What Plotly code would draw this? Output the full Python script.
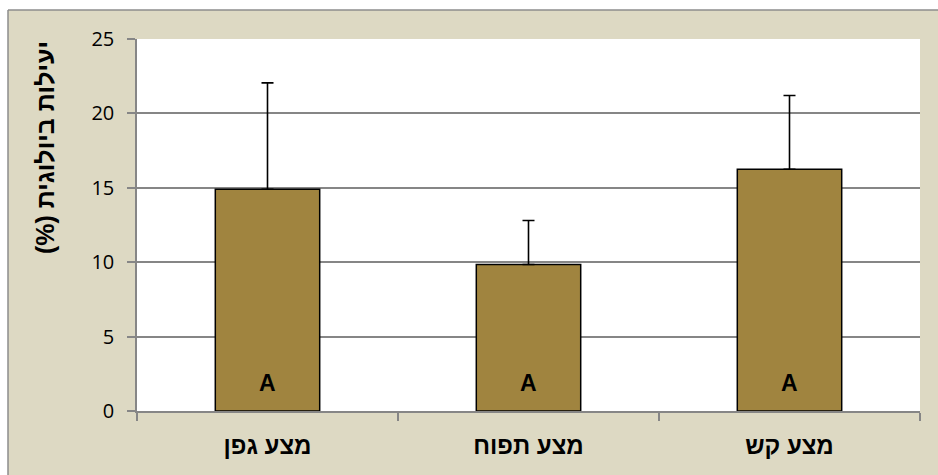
import plotly.graph_objects as go

categories = ["מצע גפן", "מצע תפוח", "מצע קש"]
values = [14.9, 9.85, 16.25]
err_plus = [7.15, 2.95, 4.95]
letters = ["A", "A", "A"]
y_title = "יעילות ביולוגית (%)\u200f"

W, H = 938, 475
L, R, T, B = 137, 18, 39, 64

fig = go.Figure()
fig.add_trace(go.Bar(
    x=categories, y=values, width=0.4,
    marker=dict(color="#A0843F", line=dict(color="#000000", width=1.5)),
    error_y=dict(type="data", array=err_plus, arrayminus=[0]*len(values),
                 symmetric=False, color="#000000", thickness=1.6, width=6),
    showlegend=False, hoverinfo="skip",
))

for c, t in zip(categories, letters):
    fig.add_annotation(x=c, y=1.9, text="<b>%s</b>" % t, showarrow=False,
                       font=dict(family="Liberation Sans, Arial", size=23, color="#000000"),
                       xref="x", yref="y", yanchor="middle")

fig.add_annotation(x=(45 - L) / (W - L - R), y=(H - B - 148) / (H - T - B),
                   xref="paper", yref="paper", text="<b>%s</b>" % y_title,
                   textangle=-90, showarrow=False, xanchor="center", yanchor="middle",
                   font=dict(family="Liberation Sans", size=25, color="#000000"))

# white strips outside the frame + frame lines
fig.add_shape(type="rect", xref="paper", yref="paper",
              x0=-L / (W - L - R), x1=(8 - L) / (W - L - R),
              y0=-B / (H - T - B), y1=(H - B) / (H - T - B) + 0.01,
              fillcolor="white", line=dict(width=0))
fig.add_shape(type="rect", xref="paper", yref="paper",
              x0=-L / (W - L - R), x1=1 + R / (W - L - R) + 0.01,
              y0=(H - B - 10) / (H - T - B), y1=(H - B) / (H - T - B) + 0.01,
              fillcolor="white", line=dict(width=0))
fig.add_shape(type="line", xref="paper", yref="paper",
              x0=(8 - L) / (W - L - R), x1=(8 - L) / (W - L - R),
              y0=-B / (H - T - B) - 0.01, y1=(H - B - 10) / (H - T - B),
              line=dict(color="#8C8C8C", width=1.5))
fig.add_shape(type="line", xref="paper", yref="paper",
              x0=(8 - L) / (W - L - R), x1=1 + R / (W - L - R) + 0.01,
              y0=(H - B - 10) / (H - T - B), y1=(H - B - 10) / (H - T - B),
              line=dict(color="#8C8C8C", width=1.5))

fig.update_layout(
    width=W, height=H,
    margin=dict(l=L, r=R, t=T, b=B, pad=0),
    paper_bgcolor="#DDD9C3", plot_bgcolor="#FFFFFF",
    bargap=0.6,
    font=dict(family="Open Sans, Liberation Sans", color="#000000"),
    xaxis=dict(
        showgrid=False, showline=True, linecolor="#868686", linewidth=1.5,
        ticks="outside", tickson="boundaries", ticklen=8, tickcolor="#868686", tickwidth=1.5,
        tickfont=dict(family="Liberation Sans", size=24, color="#000000", weight="bold"),
        ticklabelstandoff=12,
    ),
    yaxis=dict(
        range=[0, 25], dtick=5, showgrid=True, gridcolor="#868686", gridwidth=1.5,
        showline=True, linecolor="#868686", linewidth=1.5,
        ticks="outside", ticklen=8, tickcolor="#868686", tickwidth=1.5,
        tickfont=dict(family="Open Sans, Liberation Sans", size=20, color="#000000"),
        ticklabelstandoff=9, zeroline=False,
    ),
)

fig.write_html("out.html")
